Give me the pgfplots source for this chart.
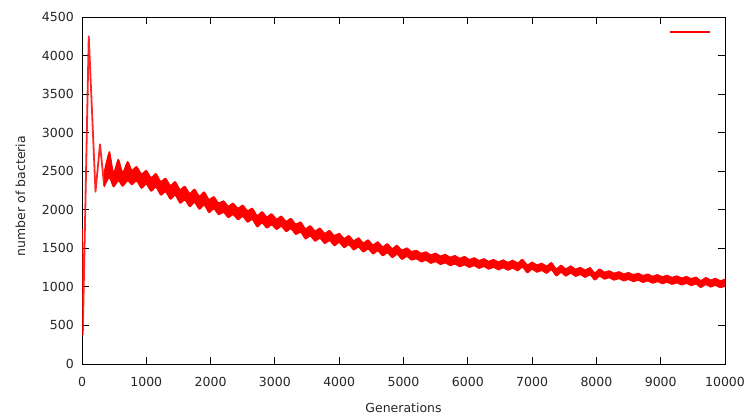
\documentclass[border=0pt]{standalone}
\usepackage{fontspec}
\setmainfont{DejaVu Sans}
\usepackage{pgfplots}
\pgfplotsset{compat=1.18}
\usepgfplotslibrary{fillbetween}

\newcommand{\lblfont}{\fontsize{12.5pt}{15pt}\selectfont}

\begin{document}
\begin{tikzpicture}
\begin{axis}[
  scale only axis, width=643pt, height=347pt,
  xmin=0, xmax=10000, ymin=0, ymax=4500,
  xtick distance=1000, ytick distance=500,
  minor tick num=0,
  major tick length=7pt,
  tick align=inside,
  axis line style={black, line width=0.9pt},
  tick style={black, line width=0.9pt},
  /pgf/number format/assume math mode=true,
  /pgf/number format/set thousands separator={},
  scaled ticks=false,
  tick label style={font=\lblfont, text=black!85},
  xticklabel style={inner sep=1pt, yshift=-12pt},
  yticklabel style={inner sep=1pt, xshift=-7pt},
  xlabel={Generations},
  ylabel={number of bacteria},
  every axis x label/.style={at={(axis description cs:0.5,0)}, anchor=base,
    yshift=-48.7pt, font=\lblfont, text=black!85, inner sep=0pt},
  every axis y label/.style={at={(axis description cs:-0.0886,0.484)}, rotate=90,
    anchor=base, font=\lblfont, text=black!85, inner sep=0pt},
  legend style={at={(0.9129,0.9568)}, anchor=west, draw=none, fill=none,
                inner sep=0pt, outer sep=0pt, nodes={inner sep=0pt}},
  legend image code/.code={\draw[#1] (0pt,0pt) -- (40pt,0pt);},
  edge/.style={forget plot, red, line width=0.9pt, line join=round, smooth, tension=0.45},
]
% early spike, thin line
\addplot[forget plot, red, opacity=0.85, line width=1.8pt, line join=round] coordinates {
 (0,1750) (12,380) (105,4250) (210,2235) (280,2850) (345,2310) (425,2750)
 (490,2310) (565,2645) (632,2330) (710,2615)
};
% upper edge of the oscillation band
\addplot[edge, name path=U] coordinates {
 (345,2490) (425,2745) (490,2490) (565,2655) (632,2490) (710,2625) (775,2515)
 (850,2560) (925,2468) (1000,2510) (1075,2420) (1150,2470) (1225,2370)
 (1300,2410) (1375,2317) (1450,2365) (1525,2265) (1600,2305) (1675,2215)
 (1750,2268) (1825,2180) (1900,2232) (1975,2137) (2050,2170) (2125,2090)
 (2200,2116) (2275,2051) (2350,2086) (2425,2023) (2500,2060) (2575,1990)
 (2650,2020) (2725,1928) (2800,1975) (2875,1911) (2950,1949) (3025,1881)
 (3100,1918) (3175,1853) (3250,1888) (3325,1815) (3400,1843) (3475,1758)
 (3550,1793) (3625,1728) (3700,1763) (3775,1697) (3850,1732) (3925,1667)
 (4000,1696) (4075,1631) (4150,1666) (4225,1601) (4300,1636) (4375,1574)
 (4450,1610) (4525,1547) (4600,1585) (4675,1523) (4750,1560) (4825,1500)
 (4900,1540) (4975,1477) (5050,1506) (5125,1459) (5200,1476) (5275,1436)
 (5350,1456) (5425,1417) (5500,1439) (5575,1401) (5650,1423) (5725,1386)
 (5800,1408) (5875,1372) (5950,1396) (6025,1355) (6100,1379) (6175,1343)
 (6250,1367) (6325,1332) (6400,1357) (6475,1324) (6550,1351) (6625,1319)
 (6700,1347) (6775,1312) (6850,1357) (6925,1287) (7000,1323) (7075,1285)
 (7150,1308) (7225,1271) (7300,1315) (7375,1238) (7450,1281) (7525,1235)
 (7600,1273) (7675,1231) (7750,1255) (7825,1218) (7900,1251) (7975,1185)
 (8050,1233) (8125,1192) (8200,1210) (8275,1179) (8350,1198) (8425,1169)
 (8500,1188) (8575,1159) (8650,1178) (8725,1149) (8800,1168) (8875,1139)
 (8950,1160) (9025,1132) (9100,1152) (9175,1124) (9250,1144) (9325,1116)
 (9400,1136) (9475,1108) (9550,1128) (9625,1082) (9700,1123) (9775,1089)
 (9850,1112) (9925,1081) (10000,1102)
};
% lower edge of the oscillation band
\addplot[edge, name path=L] coordinates {
 (345,2295) (425,2415) (490,2295) (565,2375) (632,2305) (710,2375) (775,2325)
 (850,2370) (925,2278) (1000,2330) (1075,2240) (1150,2290) (1225,2190)
 (1300,2230) (1375,2137) (1450,2185) (1525,2085) (1600,2125) (1675,2039)
 (1750,2092) (1825,2006) (1900,2058) (1975,1963) (2050,2010) (2125,1936)
 (2200,1964) (2275,1899) (2350,1934) (2425,1871) (2500,1910) (2575,1840)
 (2650,1870) (2725,1778) (2800,1825) (2875,1763) (2950,1801) (3025,1745)
 (3100,1782) (3175,1717) (3250,1752) (3325,1679) (3400,1707) (3475,1622)
 (3550,1657) (3625,1593) (3700,1628) (3775,1563) (3850,1598) (3925,1533)
 (4000,1574) (4075,1509) (4150,1544) (4225,1479) (4300,1514) (4375,1452)
 (4450,1490) (4525,1427) (4600,1465) (4675,1403) (4750,1440) (4825,1380)
 (4900,1420) (4975,1357) (5050,1394) (5125,1347) (5200,1364) (5275,1324)
 (5350,1344) (5425,1305) (5500,1327) (5575,1289) (5650,1311) (5725,1274)
 (5800,1296) (5875,1260) (5950,1284) (6025,1251) (6100,1275) (6175,1239)
 (6250,1263) (6325,1228) (6400,1253) (6475,1220) (6550,1247) (6625,1215)
 (6700,1243) (6775,1208) (6850,1253) (6925,1183) (7000,1227) (7075,1189)
 (7150,1212) (7225,1175) (7300,1219) (7375,1142) (7450,1185) (7525,1139)
 (7600,1177) (7675,1135) (7750,1159) (7825,1122) (7900,1155) (7975,1089)
 (8050,1137) (8125,1100) (8200,1118) (8275,1087) (8350,1106) (8425,1077)
 (8500,1096) (8575,1067) (8650,1086) (8725,1057) (8800,1076) (8875,1047)
 (8950,1068) (9025,1040) (9100,1060) (9175,1032) (9250,1052) (9325,1024)
 (9400,1044) (9475,1016) (9550,1036) (9625,990) (9700,1031) (9775,997)
 (9850,1020) (9925,989) (10000,1010)
};
\addplot[forget plot, fill=red, draw=none] fill between[of=U and L];
\addlegendimage{red, line width=1.5pt}
\addlegendentry{}
\coordinate (O) at (rel axis cs:0,0);
\end{axis}
\path (O) ++(-82pt,-52pt) rectangle ++(749pt,416pt);
\end{tikzpicture}
\end{document}
